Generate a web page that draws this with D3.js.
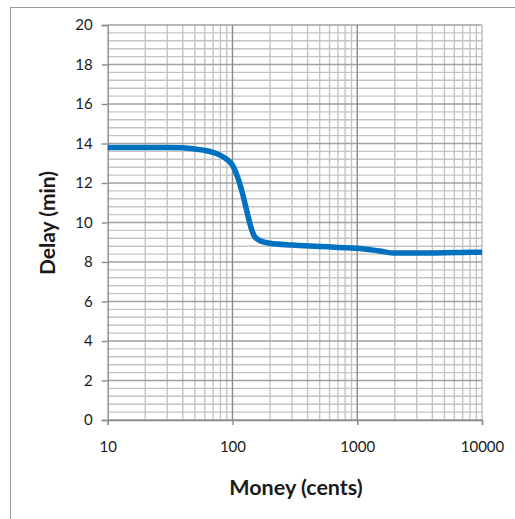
<!DOCTYPE html>
<html>
<head>
<meta charset="utf-8">
<script src="https://cdn.jsdelivr.net/npm/d3@7"></script>
<style>
  html, body { margin: 0; padding: 0; background: #fff; }
  svg { display: block; }
  text { font-family: Lato, "Open Sans", sans-serif; fill: #1a1a1a; }
</style>
</head>
<body>
<svg id="chart" width="515" height="519"></svg>
<script>
// Delay versus money offered (log scale in cents)
const money = [10, 20, 30, 40, 50, 60, 70, 80, 90, 100, 110, 120, 130, 140, 150, 170, 200, 300, 500, 700, 1000, 1500, 2000, 3000, 5000, 7000, 10000];
const delay = [13.8, 13.8, 13.8, 13.78, 13.72, 13.65, 13.55, 13.4, 13.2, 12.9, 12.3, 11.5, 10.6, 9.8, 9.3, 9.05, 8.95, 8.86, 8.79, 8.74, 8.7, 8.56, 8.45, 8.45, 8.47, 8.48, 8.5];

const xTicks = [10, 100, 1000, 10000];
const yTicks = [0, 2, 4, 6, 8, 10, 12, 14, 16, 18, 20];
const xTitle = "Money (cents)";
const yTitle = "Delay (min)";

const svg = d3.select("#chart");
const plot = { left: 107.7, right: 482, top: 25, bottom: 420 };

// chart frame
svg.append("rect")
  .attr("x", 10.5).attr("y", 7.5)
  .attr("width", 530).attr("height", 530)
  .attr("fill", "none").attr("stroke", "#9a9a9a").attr("stroke-width", 1);

const x = d3.scaleLog().domain([10, 10000]).range([plot.left, plot.right]);
const y = d3.scaleLinear().domain([0, 20]).range([plot.bottom, plot.top]);

const grid = svg.append("g");

// minor vertical lines (2..9 within each decade)
const minorX = [];
for (let d = 10; d < 10000; d *= 10) {
  for (let k = 2; k <= 9; k++) minorX.push(d * k);
}
grid.selectAll(".vminor").data(minorX).join("line")
  .attr("x1", d => x(d)).attr("x2", d => x(d))
  .attr("y1", plot.top).attr("y2", plot.bottom)
  .attr("stroke", "#c4c4c4").attr("stroke-width", 1.4);

// minor horizontal lines every 0.4
const minorY = d3.range(0, 20.001, 0.4).filter(v => Math.abs(v / 2 - Math.round(v / 2)) > 1e-6);
grid.selectAll(".hminor").data(minorY).join("line")
  .attr("x1", plot.left).attr("x2", plot.right)
  .attr("y1", d => y(d)).attr("y2", d => y(d))
  .attr("stroke", "#c4c4c4").attr("stroke-width", 1.4);

// major horizontal lines
grid.selectAll(".hmajor").data(yTicks).join("line")
  .attr("x1", plot.left).attr("x2", plot.right)
  .attr("y1", d => y(d)).attr("y2", d => y(d))
  .attr("stroke", "#a0a0a0").attr("stroke-width", 1.4);

// major vertical lines at decades
grid.selectAll(".vmajor").data(xTicks.slice(1, 3)).join("line")
  .attr("x1", d => x(d)).attr("x2", d => x(d))
  .attr("y1", plot.top).attr("y2", plot.bottom)
  .attr("stroke", "#8a8a8a").attr("stroke-width", 1.4);
grid.append("line")
  .attr("x1", x(10000)).attr("x2", x(10000))
  .attr("y1", plot.top).attr("y2", plot.bottom)
  .attr("stroke", "#bdbdbd").attr("stroke-width", 1.4);

// axes
const yAxis = d3.axisLeft(y).tickValues(yTicks).tickSize(6).tickPadding(9).tickFormat(d3.format("d"));
const gy = svg.append("g").attr("transform", `translate(${plot.left},0)`).call(yAxis);
gy.select(".domain").attr("stroke", "#8a8a8a").attr("stroke-width", 1.4);
gy.selectAll(".tick line").attr("stroke", "#8a8a8a").attr("stroke-width", 1.4);
gy.selectAll(".tick text").attr("font-size", 15).attr("fill", "#1a1a1a");

const xAxis = d3.axisBottom(x).tickValues(xTicks).tickSize(5).tickPadding(16).tickFormat(d3.format("d"));
const gx = svg.append("g").attr("transform", `translate(0,${plot.bottom})`).call(xAxis);
gx.select(".domain").attr("stroke", "#8a8a8a").attr("stroke-width", 1.4);
gx.selectAll(".tick line").attr("stroke", "#8a8a8a").attr("stroke-width", 1.4);
gx.selectAll(".tick text").attr("font-size", 15).attr("fill", "#1a1a1a");

// data line
const line = d3.line()
  .x((d, i) => x(money[i]))
  .y(d => y(d))
  .curve(d3.curveMonotoneX);
svg.append("path")
  .datum(delay)
  .attr("d", line)
  .attr("fill", "none")
  .attr("stroke", "#0070c0")
  .attr("stroke-width", 5.5)
  .attr("stroke-linejoin", "round")
  .attr("stroke-linecap", "butt");

// axis titles
svg.append("text")
  .attr("x", 296).attr("y", 495)
  .attr("text-anchor", "middle")
  .attr("font-size", 21.5).attr("font-weight", "bold")
  .text(xTitle);

svg.append("text")
  .attr("transform", "translate(55,223) rotate(-90)")
  .attr("text-anchor", "middle")
  .attr("font-size", 21).attr("font-weight", "bold")
  .text(yTitle);
</script>
</body>
</html>
